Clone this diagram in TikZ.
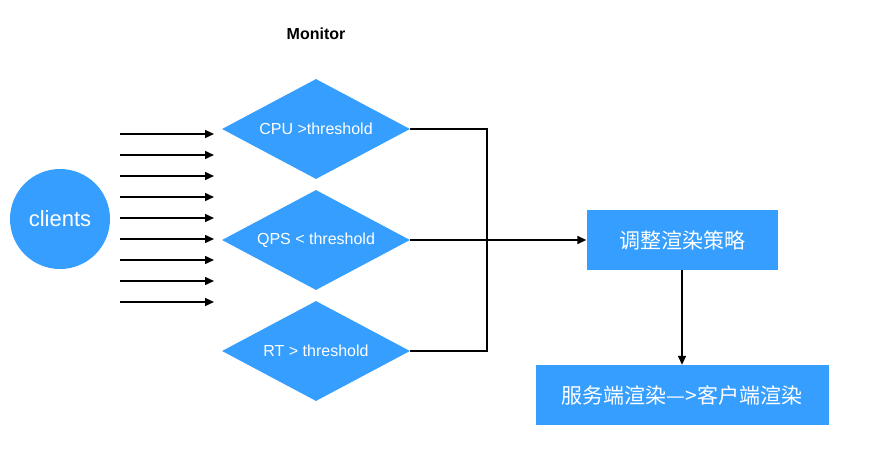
\documentclass[tikz,border=0pt]{standalone}
\usepackage{fontspec}
\setmainfont{Liberation Sans}
\newfontfamily\cjk{Noto Sans CJK SC}
\usetikzlibrary{arrows.meta,shapes.geometric}
\definecolor{flowblue}{HTML}{359EFF}

\begin{document}
\begin{tikzpicture}[
    x=1pt, y=-1pt,
    client/.style={circle, fill=flowblue, text=white, inner sep=0pt, minimum size=100pt, font=\fontsize{22}{26}\selectfont},
    cond/.style={diamond, fill=flowblue, text=white, inner sep=0pt, aspect=1.9, minimum width=188pt, minimum height=100pt, font=\fontsize{16}{19}\selectfont},
    action/.style={rectangle, fill=flowblue, text=white, inner sep=0pt, minimum height=60pt, font=\cjk\fontsize{21}{25}\selectfont},
    title/.style={font=\bfseries\fontsize{16}{19}\selectfont},
    line/.style={line width=1.5pt},
    arrow/.style={line width=1.5pt, -{Triangle[length=9pt,width=8pt]}}
]
\useasboundingbox (0,0) rectangle (881,450);

% Clients and requests
\node[client] (clients) at (60,219) {clients};
\foreach \i in {0,...,8} {
    \coordinate (req\i s) at (120,134+21*\i);
    \coordinate (req\i e) at (214,134+21*\i);
    \draw[arrow] (req\i s) -- (req\i e);
}

% Monitor
\node[title] (monitor) at (316,34) {Monitor};
\node[cond] (cpu) at (316,129) {CPU >threshold};
\node[cond] (qps) at (316,240) {QPS < threshold};
\node[cond] (rt) at (316,351) {RT > threshold};

% Decision
\node[action, minimum width=191pt] (adjust) at (682,240) {调整渲染策略};
\node[action, minimum width=293pt] (switch) at (682,395) {服务端渲染—>客户端渲染};

\coordinate (join) at (487,240);
\draw[line] (cpu.east) -| (join) |- (rt.east);
\draw[arrow] (qps.east) -- (adjust.west);
\draw[arrow] (adjust.south) -- (switch.north);

\end{tikzpicture}
\end{document}
